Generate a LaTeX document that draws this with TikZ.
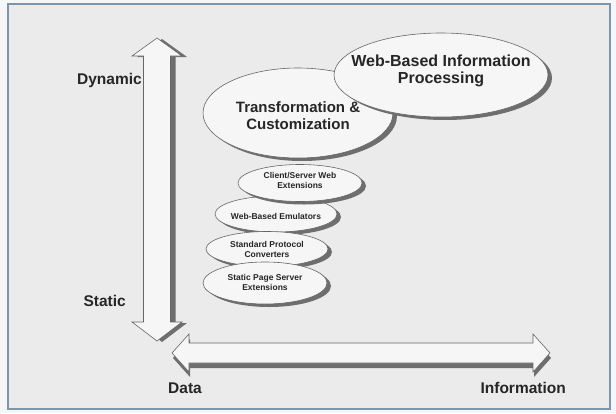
\documentclass[tikz,border=0pt]{standalone}
\usepackage{fontspec}
\setmainfont{Liberation Sans}
\usetikzlibrary{shapes.geometric,shadows}
\definecolor{fond}{HTML}{EBEBEB}
\definecolor{marge}{HTML}{F4F6F7}
\definecolor{cadre}{HTML}{7D95A8}
\definecolor{blanc}{HTML}{F6F6F6}
\definecolor{contour}{HTML}{666666}
\definecolor{ombre}{HTML}{6E6E6E}
\definecolor{encre}{HTML}{262626}
\begin{document}
\begin{tikzpicture}[x=1pt,y=-1pt]
	\tikzstyle{bulle}=[ellipse,draw=contour,fill=blanc,line width=0.6pt,inner sep=0pt,general shadow={fill=ombre,shadow xshift=4pt,shadow yshift=-3pt}]
	\tikzstyle{fleche}=[draw=contour,fill=blanc,line width=0.6pt,line join=miter]
	\tikzset{texte/.style={align=center,text=encre,inner sep=0pt},grande/.style={texte,font=\bfseries\fontsize{16}{17}\selectfont},moyenne/.style={texte,font=\bfseries\fontsize{15}{17}\selectfont},petite/.style={texte,font=\bfseries\fontsize{8.5}{10}\selectfont},axe/.style={text=encre,inner sep=0pt,font=\bfseries\fontsize{15.5}{17}\selectfont}}
	\useasboundingbox (0,0) rectangle (616,413);
	\fill[marge] (0,0) rectangle (616,413);
	\filldraw[fill=fond,draw=cadre,line width=2pt] (8,4) rectangle (610,409);
	% axe vertical
	\fill[ombre,shift={(5,1)}] (157,38) -- (182,56) -- (170.5,56) -- (170.5,322) -- (182,322) -- (157,341) -- (132,322) -- (143.5,322) -- (143.5,56) -- (132,56) -- cycle;
	\filldraw[fleche] (157,38) -- (182,56) -- (170.5,56) -- (170.5,322) -- (182,322) -- (157,341) -- (132,322) -- (143.5,322) -- (143.5,56) -- (132,56) -- cycle;
	% axe horizontal
	\fill[ombre,shift={(1,5)}] (172,353) -- (189,334) -- (189,343) -- (533,343) -- (533,334) -- (550,353) -- (533,372) -- (533,363) -- (189,363) -- (189,372) -- cycle;
	\filldraw[fleche] (172,353) -- (189,334) -- (189,343) -- (533,343) -- (533,334) -- (550,353) -- (533,372) -- (533,363) -- (189,363) -- (189,372) -- cycle;
	\node[axe,anchor=east] (dyn) at (142,80) {Dynamic};
	\node[axe,anchor=east] (stat) at (126,301) {Static};
	\node[axe,anchor=west] (data) at (168,388) {Data};
	\node[axe,anchor=east] (info) at (566,388) {Information};
	% bulles
	\node[bulle,minimum width=122pt,minimum height=36pt,label={[petite,yshift=-2pt]center:Web-Based Emulators}] (wbe) at (276,214) {};
	\node[bulle,minimum width=122pt,minimum height=35pt,label={[petite]center:Standard Protocol\\Converters}] (spc) at (267,249) {};
	\node[bulle,minimum width=124pt,minimum height=42pt,label={[petite,yshift=1pt]center:Static Page Server\\Extensions}] (spse) at (265,283) {};
	\node[bulle,minimum width=124pt,minimum height=37pt,label={[petite,yshift=3pt]center:Client/Server Web\\Extensions}] (cs) at (300,183) {};
	\node[bulle,minimum width=190pt,minimum height=90pt,label={[moyenne,yshift=-3pt]center:Transformation \&\\Customization}] (trans) at (298,113) {};
	\node[bulle,minimum width=214pt,minimum height=84pt,label={[grande,yshift=4pt]center:Web-Based Information\\Processing}] (wbip) at (441,75) {};
\end{tikzpicture}
\end{document}
